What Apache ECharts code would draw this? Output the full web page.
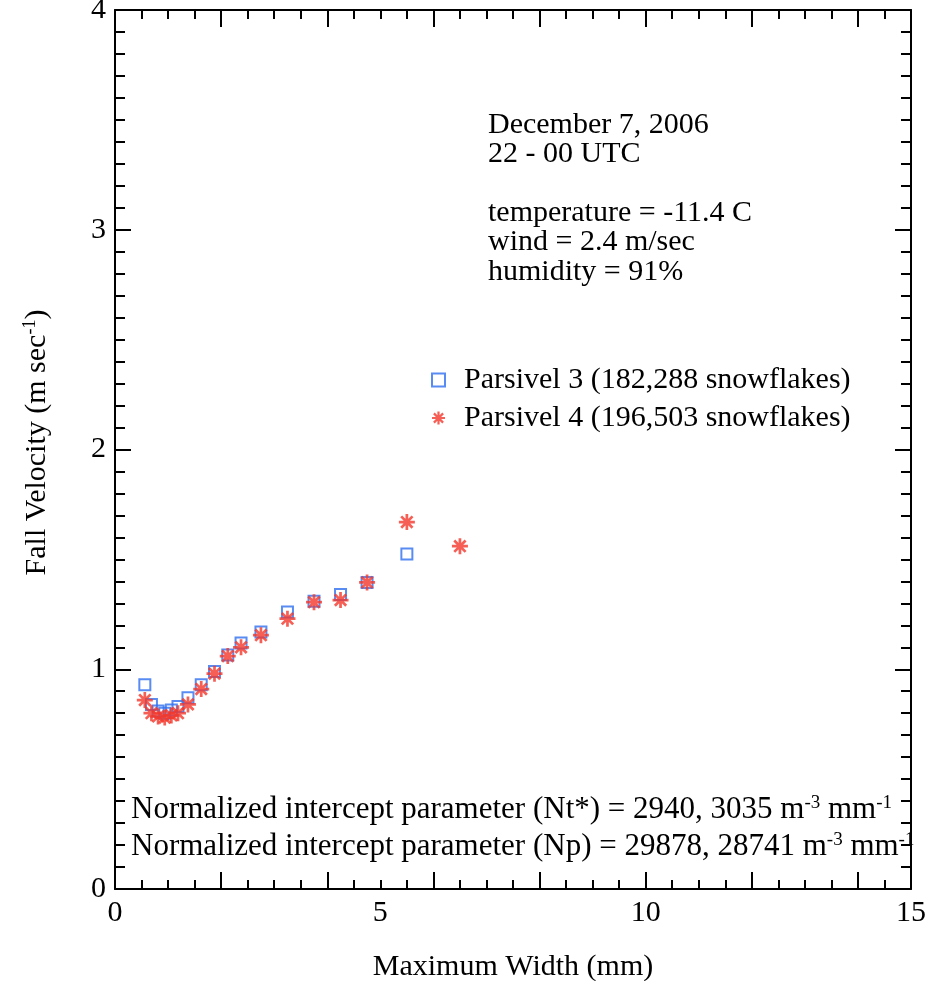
<!DOCTYPE html>
<html>
<head>
<meta charset="utf-8">
<title>Fall Velocity vs Maximum Width</title>
<script src="https://cdn.jsdelivr.net/npm/echarts@6/dist/echarts.min.js"></script>
<style>
  html, body { margin: 0; padding: 0; background: #fff; }
  #chart { width: 939px; height: 981px; }
</style>
</head>
<body>
<div id="chart"></div>
<script>
// Parsivel size-class centres (mm)
const widthClasses = [0.562, 0.687, 0.812, 0.937, 1.062, 1.187, 1.375, 1.625, 1.875,
                      2.125, 2.375, 2.75, 3.25, 3.75, 4.25, 4.75, 5.5, 6.5];

// Mean fall velocity per size class (m/s)
const parsivel3Velocity = [0.93, 0.84, 0.81, 0.80, 0.815, 0.83, 0.87, 0.93, 0.99,
                           1.065, 1.12, 1.17, 1.26, 1.31, 1.34, 1.395, 1.525];
const parsivel4Velocity = [0.86, 0.80, 0.785, 0.78, 0.79, 0.80, 0.84, 0.91, 0.98,
                           1.06, 1.10, 1.155, 1.23, 1.305, 1.315, 1.395, 1.67, 1.56];

const seriesNames = ['Parsivel 3 (182,288 snowflakes)', 'Parsivel 4 (196,503 snowflakes)'];
const xTickLabels = [0, 5, 10, 15];
const yTickLabels = [0, 1, 2, 3, 4];

const infoLines = ['December 7, 2006', '22 - 00 UTC', '', 'temperature = -11.4 C',
                   'wind = 2.4 m/sec', 'humidity = 91%'];
const interceptNt = ['2940', '3035'];
const interceptNp = ['29878', '28741'];

const FONT = 'Liberation Serif';
const BLUE = '#2f6ff0';
const RED = '#f3372a';

// eight-armed asterisk built from four thin bars
function asteriskPath(bars, w) {
  let d = '';
  for (let k = 0; k < bars; k++) {
    const a = Math.PI * k / bars, c = Math.cos(a), s = Math.sin(a);
    const pts = [[-c - s * w, -s + c * w], [c - s * w, s + c * w],
                 [c + s * w, s - c * w], [-c + s * w, -s - c * w]];
    d += 'M' + pts.map(p => (p[0] * 10 + 10).toFixed(3) + ' ' + (p[1] * 10 + 10).toFixed(3)).join(' L') + ' Z ';
  }
  return 'path://' + d;
}
const starSymbol = asteriskPath(4, 0.17);

const pairs = (xs, ys) => ys.map((y, i) => [xs[i], y]);

const axisCommon = { type: 'value', splitLine: { show: false } };
const blackLine = { color: '#000', width: 2 };

// extra axes that only carry inward tick marks
function tickAxis(position, max, interval, len, showLine) {
  return Object.assign({}, axisCommon, {
    position, min: 0, max, interval,
    axisLine: { show: showLine, onZero: false, lineStyle: blackLine },
    axisTick: { show: true, inside: true, length: len, lineStyle: blackLine },
    axisLabel: { show: false }
  });
}

const chart = echarts.init(document.getElementById('chart'), null, { renderer: 'canvas' });

const supRich = size => ({
  t: { fontSize: size, fontFamily: FONT, color: '#000', fill: '#000', lineHeight: 32 },
  s: { fontSize: Math.round(size * 0.6), fontFamily: FONT, color: '#000', fill: '#000', verticalAlign: 'top', lineHeight: 32 }
});

const option = {
  backgroundColor: '#fff',
  animation: false,
  textStyle: { fontFamily: FONT, color: '#000' },
  grid: { left: 115, right: 28, top: 10, bottom: 92, containLabel: false, outerBoundsMode: 'none' },
  xAxis: [
    Object.assign({}, axisCommon, {
      position: 'bottom', min: 0, max: 15, interval: 5,
      axisLine: { show: true, onZero: false, lineStyle: blackLine },
      axisTick: { show: false },
      axisLabel: {
        fontSize: 30, fontFamily: FONT, color: '#000', margin: 9,
        formatter: v => xTickLabels.includes(v) ? String(v) : ''
      },
      name: 'Maximum Width (mm)', nameLocation: 'middle', nameGap: 63,
      nameTextStyle: { fontSize: 30, fontFamily: FONT, color: '#000' }
    }),
    tickAxis('bottom', 15, 0.5, 9, false),
    tickAxis('bottom', 15, 2, 17, false),
    tickAxis('top', 15, 0.5, 9, true),
    tickAxis('top', 15, 2, 17, false)
  ],
  yAxis: [
    Object.assign({}, axisCommon, {
      position: 'left', min: 0, max: 4, interval: 1,
      axisLine: { show: true, onZero: false, lineStyle: blackLine },
      axisTick: { show: true, inside: true, length: 16, lineStyle: blackLine },
      axisLabel: {
        fontSize: 30, fontFamily: FONT, color: '#000', margin: 9,
        formatter: v => yTickLabels.includes(v) ? String(v) : ''
      },
      name: '{t|Fall Velocity (m sec}{s|-1}{t|)}',
      nameLocation: 'middle', nameGap: 62,
      nameTextStyle: { fontFamily: FONT, color: '#000', padding: [0, 0, 0, 14], rich: supRich(30) }
    }),
    tickAxis('left', 4, 0.1, 10, false),
    tickAxis('right', 4, 1, 16, true),
    tickAxis('right', 4, 0.1, 10, false)
  ],
  legend: {
    orient: 'vertical', left: 426, top: 360,
    itemWidth: 13, itemHeight: 13, itemGap: 8,
    textStyle: { fontSize: 30, fontFamily: FONT, color: '#000', lineHeight: 30, padding: [0, 0, 0, 14] },
    data: seriesNames
  },
  series: [
    {
      name: seriesNames[0], type: 'scatter',
      symbol: 'rect', symbolSize: 11,
      itemStyle: { color: 'rgba(0,0,0,0)', borderColor: BLUE, borderWidth: 2 },
      data: pairs(widthClasses, parsivel3Velocity), z: 2
    },
    {
      name: seriesNames[1], type: 'scatter',
      symbol: starSymbol, symbolSize: 16,
      itemStyle: { color: RED },
      data: pairs(widthClasses, parsivel4Velocity), z: 3
    }
  ],
  graphic: [
    {
      type: 'text', left: 488, top: 110,
      style: {
        text: infoLines.join('\n'),
        font: '30px "' + FONT + '"', fill: '#000', lineHeight: 29.4
      }
    },
    {
      type: 'text', left: 131, top: 794,
      style: {
        text: '{t|Normalized intercept parameter (Nt*) = ' + interceptNt.join(', ') + ' m}{s|-3}{t| mm}{s|-1}',
        rich: supRich(31)
      }
    },
    {
      type: 'text', left: 131, top: 831,
      style: {
        text: '{t|Normalized intercept parameter (Np) = ' + interceptNp.join(', ') + ' m}{s|-3}{t| mm}{s|-1}',
        rich: supRich(31)
      }
    }
  ]
};

chart.setOption(option);
</script>
</body>
</html>
